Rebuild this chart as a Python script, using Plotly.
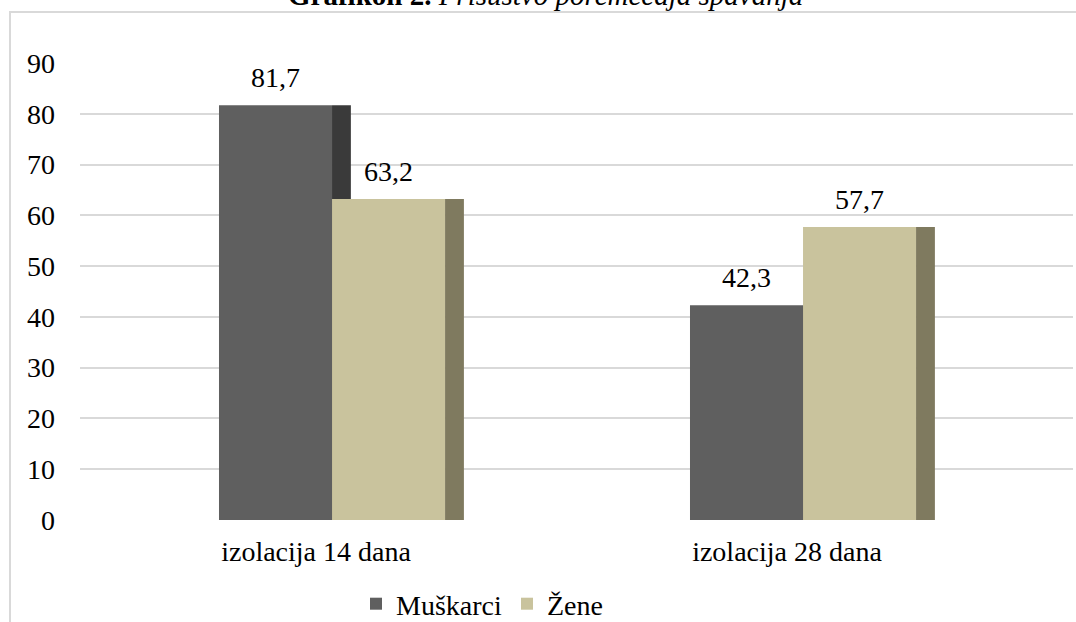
import plotly.graph_objects as go

# Data
categories = ["izolacija 14 dana", "izolacija 28 dana"]
muskarci = [81.7, 42.3]
zene = [63.2, 57.7]
y_ticks = [0, 10, 20, 30, 40, 50, 60, 70, 80, 90]

FONT = "Liberation Serif"
TEXT = "#000000"
GRID = "#d9d9d9"

# Pseudo-3D columns: a front face plus a darker narrow side face
FRONT_W = 0.24
SIDE_W = 0.04
M_OFF = -0.206
Z_OFF = M_OFF + FRONT_W
SIDE_M = Z_OFF
SIDE_Z = Z_OFF + FRONT_W

W, H = 1076, 622
L, R, T, B = 80, 3, 63, 102
PW, PH = W - L - R, H - T - B


def px_x(px):
    return (px - L) / PW


def px_y(py):
    return (H - B - py) / PH


def fmt(v):
    return f"{v:.1f}".replace(".", ",")


fig = go.Figure()
fig.add_bar(x=categories, y=muskarci, name="Muškarci", offset=M_OFF, width=FRONT_W,
            marker=dict(color="#5f5f5f", line=dict(width=0)))
fig.add_bar(x=categories, y=muskarci, offset=SIDE_M, width=SIDE_W, showlegend=False,
            marker=dict(color="#3a3a3a", line=dict(width=0)))
fig.add_bar(x=categories, y=zene, name="Žene", offset=Z_OFF, width=FRONT_W,
            marker=dict(color="#c9c39d", line=dict(width=0)))
fig.add_bar(x=categories, y=zene, offset=SIDE_Z, width=SIDE_W, showlegend=False,
            marker=dict(color="#7f7a5f", line=dict(width=0)))

annotations = []
for i, v in enumerate(muskarci):
    annotations.append(dict(x=i + M_OFF + FRONT_W / 2, y=v, xref="x", yref="y",
                            text=fmt(v), showarrow=False, yanchor="bottom", yshift=10,
                            font=dict(family=FONT, size=28, color=TEXT)))
for i, v in enumerate(zene):
    annotations.append(dict(x=i + Z_OFF + FRONT_W / 2, y=v, xref="x", yref="y",
                            text=fmt(v), showarrow=False, yanchor="bottom", yshift=10,
                            font=dict(family=FONT, size=28, color=TEXT)))

# Title
annotations.append(dict(x=px_x(545), y=px_y(-5), xref="paper", yref="paper",
                        text="<b>Grafikon 2.</b> <i>Prisustvo poremećaja spavanja</i>",
                        showarrow=False, xanchor="center", yanchor="middle",
                        font=dict(family=FONT, size=29, color=TEXT)))

fig.update_layout(
    width=W, height=H,
    margin=dict(l=L, r=R, t=T, b=B, pad=0, autoexpand=False),
    paper_bgcolor="white", plot_bgcolor="white",
    barmode="overlay",
    font=dict(family=FONT, size=28, color=TEXT),
    showlegend=True,
    legend=dict(orientation="h", x=482 / W, xanchor="center", xref="container",
                y=1 - 604 / H, yanchor="middle", yref="container",
                font=dict(family=FONT, size=28, color=TEXT), bgcolor="rgba(0,0,0,0)"),
    annotations=annotations,
    shapes=[dict(type="rect", xref="paper", yref="paper",
                 x0=px_x(10), x1=px_x(1090), y0=px_y(640), y1=px_y(12),
                 line=dict(color=GRID, width=2), fillcolor="rgba(0,0,0,0)", layer="below")],
)

fig.update_xaxes(type="category", range=[-0.5011, 1.6072], showgrid=False, zeroline=False,
                 showline=False, ticks="", ticklabelstandoff=12, automargin=False,
                 tickfont=dict(family=FONT, size=28, color=TEXT))
fig.update_yaxes(range=[0, 90], tickvals=y_ticks, showgrid=True, gridcolor=GRID, gridwidth=1.5,
                 zeroline=False, showline=False, ticks="", ticklabelstandoff=24, automargin=False,
                 tickfont=dict(family=FONT, size=28, color=TEXT))

fig.write_html("out.html")
